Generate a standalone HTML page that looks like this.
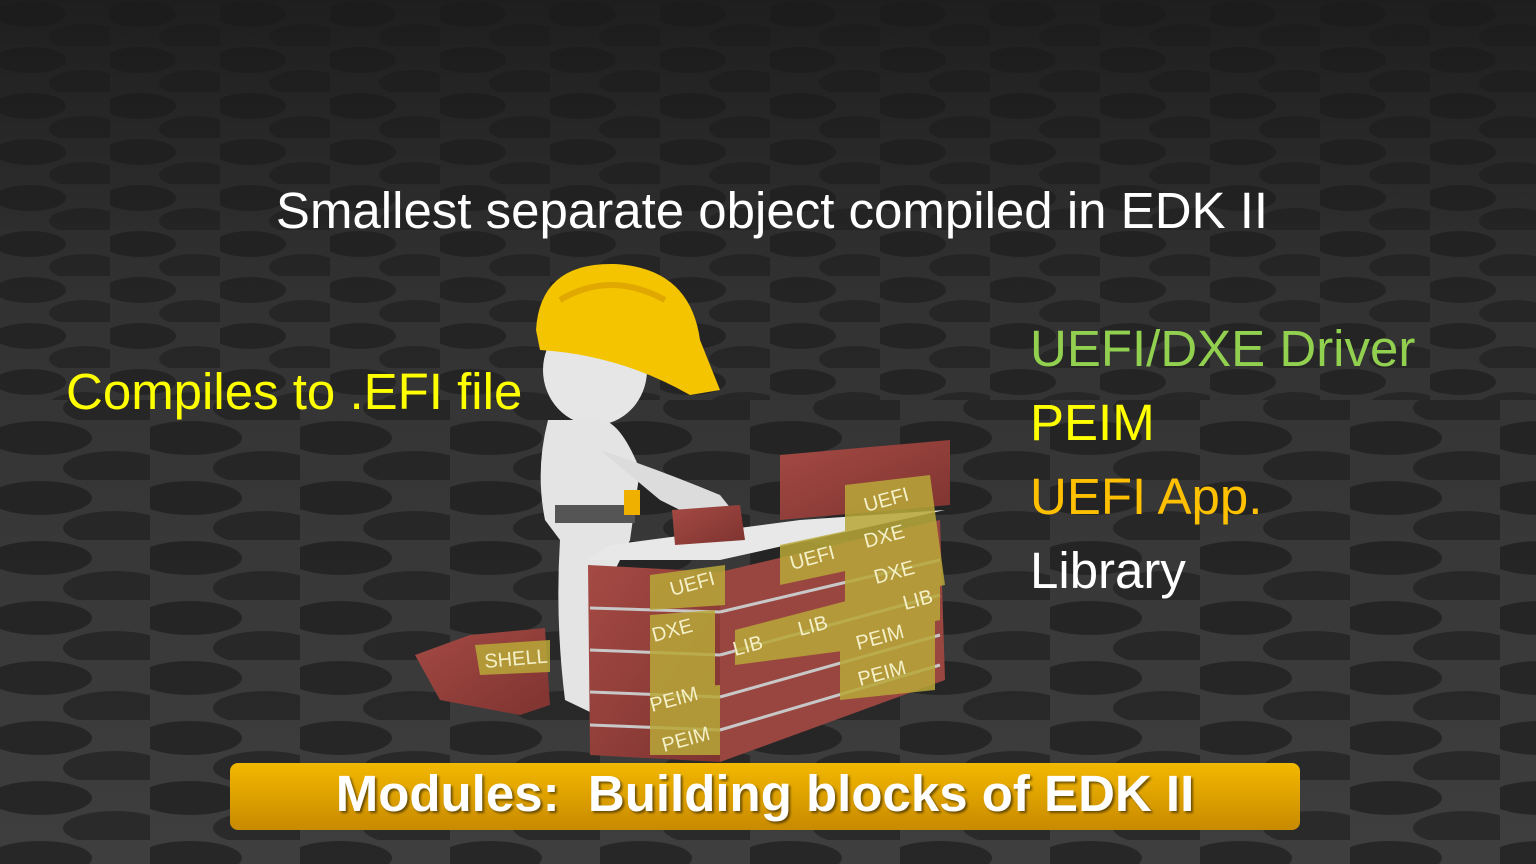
<!DOCTYPE html>
<html><head><meta charset="utf-8"><style>
html,body{margin:0;padding:0}
body{width:1536px;height:864px;overflow:hidden;position:relative;background:#2b2b2b;font-family:"Liberation Sans",Arial,sans-serif}
svg.bg{position:absolute;left:0;top:0}
.t{position:absolute;white-space:nowrap}
</style></head><body>
<svg class="bg" width="1536" height="864" viewBox="0 0 1536 864">
<defs>
<pattern id="p" width="110" height="46" patternUnits="userSpaceOnUse">
<rect width="110" height="46" fill="#464646"/>
<ellipse cx="30" cy="14" rx="36" ry="13" fill="#2c2c2c"/>
<ellipse cx="85" cy="37" rx="36" ry="13" fill="#303030"/>
</pattern>
<pattern id="p2" width="150" height="60" patternUnits="userSpaceOnUse">
<rect width="150" height="60" fill="#474747"/>
<ellipse cx="40" cy="18" rx="52" ry="17" fill="#2a2a2a"/>
<ellipse cx="115" cy="48" rx="52" ry="17" fill="#2e2e2e"/>
</pattern>
<linearGradient id="fade" x1="0" y1="0" x2="0" y2="1">
<stop offset="0" stop-color="#1a1a1a" stop-opacity="0.9"/>
<stop offset="0.35" stop-color="#1a1a1a" stop-opacity="0.45"/>
<stop offset="1" stop-color="#1a1a1a" stop-opacity="0.2"/>
</linearGradient>
<linearGradient id="gold" x1="0" y1="0" x2="0" y2="1">
<stop offset="0" stop-color="#f3b800"/><stop offset="1" stop-color="#c88a00"/>
</linearGradient>
<linearGradient id="brick" x1="0" y1="0" x2="1" y2="1">
<stop offset="0" stop-color="#a54a44"/><stop offset="1" stop-color="#7e3330"/>
</linearGradient>
</defs>
<rect width="1536" height="400" fill="url(#p)"/>
<rect y="400" width="1536" height="464" fill="url(#p2)"/>
<rect width="1536" height="864" fill="url(#fade)"/>
<polygon points="415,655 470,635 545,628 550,705 520,715 440,700" fill="url(#brick)"/>
<ellipse cx="595" cy="370" rx="52" ry="55" fill="#e6e6e6"/>
<path d="M548,420 Q535,470 545,520 L560,540 Q555,620 565,700 L590,712 L600,600 L630,540 L640,470 Q620,420 600,420 Z" fill="#e4e4e4"/>
<path d="M600,450 Q660,470 720,495 L740,520 L720,530 L660,500 Z" fill="#dcdcdc"/>
<rect x="555" y="505" width="80" height="18" fill="#555"/>
<path d="M536,330 Q540,262 615,264 Q690,268 700,340 L720,390 L690,395 Q620,355 540,350 Z" fill="#f4c400"/>
<path d="M560,300 Q610,270 665,300" stroke="#e0a800" stroke-width="6" fill="none"/>
<rect x="624" y="490" width="16" height="25" fill="#f0b000"/>
<polygon points="588,560 720,560 945,510 800,520 610,545" fill="#e8e8e8"/>
<polygon points="780,455 950,440 950,505 780,520" fill="url(#brick)"/>
<polygon points="672,510 740,505 745,540 675,545" fill="url(#brick)"/>
<polygon points="588,565 720,572 720,762 590,755" fill="url(#brick)"/>
<polygon points="720,572 940,520 945,680 720,762" fill="#9a4640"/>
<g stroke="#c8c8c8" stroke-width="3" fill="none">
<line x1="590" y1="608" x2="720" y2="612"/><line x1="590" y1="650" x2="720" y2="655"/>
<line x1="590" y1="692" x2="720" y2="697"/><line x1="590" y1="725" x2="720" y2="730"/>
<line x1="720" y1="612" x2="940" y2="560"/><line x1="720" y1="655" x2="940" y2="595"/>
<line x1="720" y1="697" x2="940" y2="635"/><line x1="720" y1="730" x2="940" y2="665"/>
</g>
<g fill="#b8a838" opacity="0.85">
<polygon points="650,575 725,565 725,605 650,610"/>
<polygon points="650,615 715,610 715,690 650,690"/>
<polygon points="650,690 720,685 720,755 650,755"/>
<polygon points="780,545 850,530 850,570 780,585"/>
<polygon points="845,485 930,475 945,585 845,605"/>
<polygon points="735,630 850,600 850,650 735,665"/>
<polygon points="850,600 940,575 940,620 850,640"/>
<polygon points="840,625 935,600 935,690 840,700"/>
<polygon points="475,645 550,640 550,672 480,675"/>
</g>
<g font-family="Liberation Sans,Arial,sans-serif" font-size="20" fill="#f4f0c8">
<text x="485" y="668" transform="rotate(-5 485 668)">SHELL</text>
<text x="866" y="512" transform="rotate(-15 866 512)">UEFI</text>
<text x="866" y="548" transform="rotate(-15 866 548)">DXE</text>
<text x="792" y="570" transform="rotate(-15 792 570)">UEFI</text>
<text x="876" y="584" transform="rotate(-15 876 584)">DXE</text>
<text x="672" y="596" transform="rotate(-15 672 596)">UEFI</text>
<text x="905" y="610" transform="rotate(-15 905 610)">LIB</text>
<text x="654" y="642" transform="rotate(-15 654 642)">DXE</text>
<text x="800" y="636" transform="rotate(-15 800 636)">LIB</text>
<text x="735" y="656" transform="rotate(-15 735 656)">LIB</text>
<text x="858" y="650" transform="rotate(-15 858 650)">PEIM</text>
<text x="860" y="686" transform="rotate(-15 860 686)">PEIM</text>
<text x="652" y="712" transform="rotate(-15 652 712)">PEIM</text>
<text x="664" y="752" transform="rotate(-15 664 752)">PEIM</text>
</g>
<rect x="230" y="763" width="1070" height="67" rx="8" fill="url(#gold)"/>
</svg>
<div class="t" style="left:0;width:1544px;text-align:center;top:181px;font-size:51px;color:#fff">Smallest separate object compiled in EDK II</div>
<div class="t" style="left:66px;top:362px;font-size:51px;color:#ffff00">Compiles to .EFI file</div>
<div class="t" style="left:1030px;top:319px;font-size:51px;color:#92d050">UEFI/DXE Driver</div>
<div class="t" style="left:1030px;top:393px;font-size:51px;color:#ffff00">PEIM</div>
<div class="t" style="left:1030px;top:467px;font-size:51px;color:#ffc000">UEFI App.</div>
<div class="t" style="left:1030px;top:541px;font-size:51px;color:#fff">Library</div>
<div class="t" style="left:230px;width:1070px;text-align:center;top:764px;font-size:51px;font-weight:bold;color:#fff;text-shadow:2px 2px 2px rgba(0,0,0,.5)">Modules:&nbsp; Building blocks of EDK II</div>
</body></html>
